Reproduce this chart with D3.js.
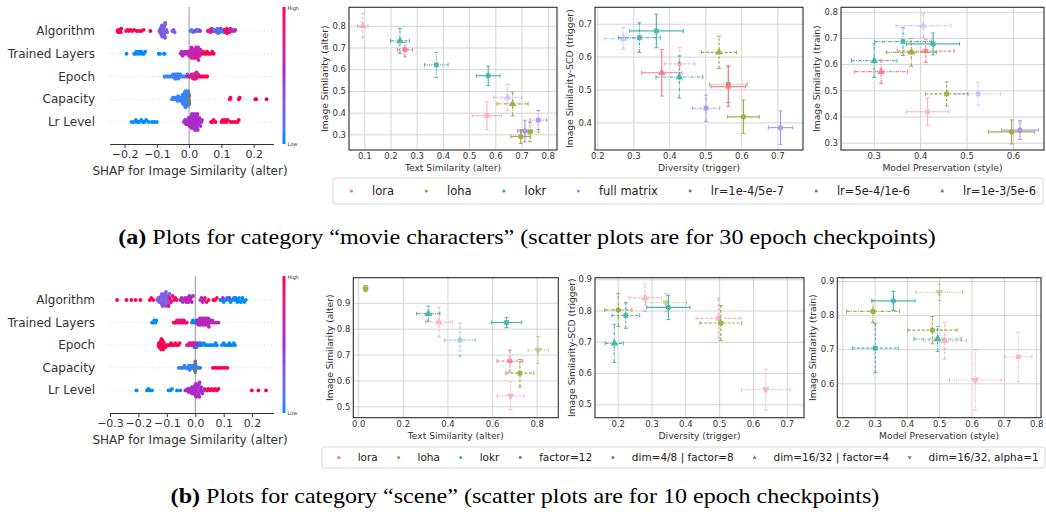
<!DOCTYPE html>
<html>
<head>
<meta charset="utf-8">
<script src="https://cdn.jsdelivr.net/npm/d3@7"></script>
<style>
	body{margin:0;background:#fff;}
	text{font-family:"DejaVu Sans",sans-serif;}
	text.caption{font-family:"Liberation Serif","Times New Roman",serif;}
</style>
</head>
<body>
<svg id="fig"></svg>
<script>
// ---------------- data ----------------
var featureNames = ["Algorithm", "Trained Layers", "Epoch", "Capacity", "Lr Level"];

// SHAP beeswarm values: [shap value, feature value (0 = low, 1 = high, null = missing)]
var shapTopAlgorithm = [[-0.222,1],[-0.220,1],[-0.219,1],[-0.217,1],[-0.215,1],[-0.212,1],[-0.210,1],[-0.195,1],[-0.190,1],[-0.186,1],[-0.181,1],[-0.176,1],[-0.170,1],[-0.162,1],[-0.155,1],[-0.148,1],[-0.141,1],[-0.120,1],
	[-0.092,.3],[-0.090,.3],[-0.089,.3],[-0.088,.3],[-0.087,.3],[-0.086,.3],[-0.086,.3],[-0.085,.3],[-0.084,.3],[-0.084,.3],[-0.083,.3],[-0.082,.3],[-0.082,.3],[-0.081,.3],[-0.080,.3],[-0.080,.3],[-0.079,.3],[-0.078,.3],[-0.078,.3],[-0.077,.3],[-0.076,.3],[-0.076,.3],[-0.075,.3],[-0.074,.3],[-0.074,.3],[-0.072,.3],[-0.070,.3],[-0.068,.3],
	[-0.052,.3],[-0.048,.3],[-0.045,.3],
	[0.004,.1],[0.008,.1],[0.012,.1],[0.018,.45],[0.022,.45],[0.026,.1],[0.030,.1],[0.034,.5],
	[0.058,.85],[0.062,.85],[0.064,.6],[0.066,.85],[0.070,.85],[0.074,.85],
	[0.078,.05],[0.082,.05],[0.085,.05],[0.086,.5],[0.088,.05],[0.090,.05],[0.092,.5],[0.093,.05],[0.096,.05],[0.098,.5],[0.100,.05],[0.104,.05],[0.108,.05],[0.112,.05],
	[0.110,.95],[0.114,.95],[0.117,.95],[0.118,.95],[0.120,.95],[0.122,.95],[0.125,.95],[0.128,.6],[0.132,.6],[0.136,.6],[0.140,.6],[0.143,.6]];
var shapTopLayers = [[-0.194,0],[-0.170,0],[-0.167,0],[-0.163,0],[-0.160,0],[-0.156,0],[-0.152,0],[-0.148,0],[-0.144,0],[-0.140,0],[-0.136,0],[-0.094,0],[-0.090,0],[-0.078,0],[-0.076,0],
	[-0.026,.6],[-0.024,.6],[-0.020,.6],[-0.017,.6],[-0.014,.6],[-0.012,.6],
	[-0.008,.65],[-0.005,.65],[-0.003,.65],[0.000,.65],[0.002,.65],[0.003,.65],[0.004,.65],[0.006,.65],[0.007,.65],[0.008,.65],[0.010,.65],[0.011,.65],[0.012,.65],[0.014,.65],[0.015,.8],[0.016,.65],[0.018,.65],[0.019,.65],[0.020,.65],[0.020,.8],[0.022,.65],[0.023,.65],[0.024,.65],[0.025,.8],[0.026,.65],[0.027,.8],[0.028,.65],[0.029,.65],[0.030,.65],[0.032,.65],[0.033,.65],[0.035,.65],
	[0.040,1],[0.044,1],[0.048,1],[0.052,1],[0.056,1],[0.060,1],[0.066,1],[0.072,1],[0.076,1]];
var shapTopEpoch = [[-0.076,.05],[-0.072,.05],[-0.068,.05],[-0.064,.05],[-0.060,.05],[-0.056,.05],[-0.052,.05],[-0.050,.05],[-0.047,.05],[-0.046,.05],[-0.045,.05],[-0.044,.3],[-0.042,.05],[-0.041,.05],[-0.040,.05],[-0.038,.05],[-0.037,.05],[-0.036,.3],[-0.035,.05],[-0.033,.05],[-0.032,.05],[-0.030,.05],[-0.028,.3],[-0.027,.05],[-0.024,.05],[-0.020,.05],[-0.016,.05],[-0.012,.05],[-0.008,.05],[-0.005,.05],
	[-0.004,.9],[0.000,.9],[0.004,.9],[0.006,.6],[0.008,.6],[0.010,.9],[0.011,.6],[0.012,.7],[0.013,.6],[0.015,.6],[0.016,.9],[0.017,.9],[0.018,.6],[0.019,.7],[0.020,.9],[0.021,.6],[0.022,.7],[0.023,.9],[0.024,.9],[0.025,.7],[0.027,1],[0.028,.7],[0.031,.7],[0.034,1],[0.038,1],[0.042,1],[0.046,1],[0.050,1],[0.054,1],[0.056,1]];
var shapTopCapacity = [[-0.053,.05],[-0.050,.05],[-0.047,.05],[-0.044,.05],[-0.041,.05],[-0.038,.05],[-0.036,.05],[-0.034,.05],[-0.032,.05],[-0.030,.05],[-0.028,.05],[-0.026,.05],[-0.024,.05],[-0.022,.05],[-0.021,.05],[-0.020,.05],[-0.019,.05],[-0.0185,.05],[-0.018,.05],[-0.017,.05],[-0.0165,.05],[-0.016,.05],[-0.015,.05],[-0.0145,.05],[-0.014,.05],[-0.013,.05],[-0.0125,.05],[-0.012,.05],[-0.011,.05],[-0.0105,.05],[-0.010,.05],[-0.009,.05],[-0.0085,.05],[-0.008,.05],[-0.007,.05],[-0.006,.05],[-0.005,.05],[-0.004,.05],[-0.003,.05],[-0.002,.05],
	[-0.001,null],[0.000,null],[0.000,null],[0.000,null],[0.000,null],[0.001,null],
	[0.126,1],[0.128,1],[0.154,1],[0.157,1],[0.205,1],[0.208,1],[0.240,1]];
var shapTopLr = [[-0.178,0],[-0.170,0],[-0.165,0],[-0.160,0],[-0.155,0],[-0.148,0],[-0.143,0],[-0.138,0],[-0.133,0],[-0.125,0],[-0.115,0],[-0.108,0],[-0.100,0],
	[-0.016,.55],[-0.013,.55],[-0.010,.55],[-0.007,.55],[-0.005,.55],[-0.004,.55],[-0.001,.55],[0.001,.55],[0.002,.55],[0.003,.55],[0.004,.55],[0.005,.55],[0.006,.55],[0.007,.55],[0.008,.55],[0.009,.55],[0.010,.55],[0.011,.55],[0.012,.55],[0.013,.55],[0.014,.55],[0.015,.55],[0.016,.55],[0.017,.55],[0.018,.55],[0.019,.55],[0.020,.55],[0.021,.55],[0.022,.55],[0.023,.55],[0.024,.55],[0.025,.55],[0.026,.55],[0.027,.55],[0.028,.55],[0.029,.55],[0.030,.55],[0.032,.55],[0.035,.55],[0.038,.55],[0.040,.55],
	[0.068,1],[0.072,1],[0.076,1],[0.082,1],[0.100,1],[0.104,1],[0.108,1],[0.112,1],[0.116,1],[0.120,1],[0.128,1],[0.135,1],[0.143,1],[0.150,1],[0.154,1]];

var shapBotAlgorithm = [[-0.275,1],[-0.242,1],[-0.225,1],[-0.210,1],[-0.193,1],[-0.160,1],[-0.155,1],[-0.148,1],
	[-0.134,.3],[-0.130,.3],[-0.127,.3],[-0.125,.3],[-0.124,.3],[-0.121,.3],[-0.120,.3],[-0.118,.3],[-0.117,.3],[-0.115,.3],[-0.113,.3],[-0.112,.3],[-0.110,.3],[-0.109,.3],[-0.107,.3],[-0.106,.3],[-0.104,.3],[-0.103,.3],[-0.100,.3],[-0.100,.3],[-0.098,.3],[-0.097,.3],[-0.094,.3],[-0.091,.3],[-0.088,.3],
	[-0.094,.95],[-0.090,.95],[-0.085,.95],[-0.080,.95],[-0.075,.95],[-0.070,.95],[-0.065,.95],
	[-0.053,.55],[-0.048,.55],[-0.044,.55],[-0.040,.55],[-0.036,.55],[-0.032,.55],[-0.030,.9],[-0.028,.55],[-0.024,.55],[-0.020,.55],[-0.018,.9],[-0.016,.55],[-0.012,.55],[-0.008,.55],
	[0.018,.6],[0.022,.6],[0.026,.6],[0.030,.6],[0.034,.9],[0.040,.9],[0.047,.9],
	[0.064,1],[0.070,1],[0.076,1],
	[0.088,0],[0.094,0],[0.097,.5],[0.100,0],[0.106,0],[0.112,0],[0.118,0],[0.120,.5],[0.124,0],[0.130,0],[0.136,0],[0.140,0],[0.142,0],[0.148,0],[0.150,0],[0.154,0],[0.160,0],[0.165,0],[0.166,0],[0.172,0],[0.178,0]];
var shapBotLayers = [[-0.152,0],[-0.148,0],[-0.144,0],[-0.140,0],[-0.137,0],
	[-0.076,.95],[-0.072,.95],[-0.068,.95],[-0.064,.95],[-0.060,.95],[-0.058,.6],[-0.056,.95],[-0.052,.95],[-0.048,.95],[-0.046,.6],[-0.044,.95],[-0.040,.95],[-0.035,.95],[-0.030,.95],
	[-0.012,0],[-0.008,0],[-0.004,0],[0.000,0],[0.004,0],
	[0.006,.6],[0.009,.6],[0.010,.6],[0.012,.6],[0.014,.6],[0.015,.6],[0.016,.6],[0.018,.6],[0.020,.6],[0.021,.6],[0.022,.6],[0.024,.6],[0.025,.6],[0.027,.6],[0.028,.6],[0.030,.6],[0.031,.6],[0.033,.6],[0.034,.6],[0.036,.6],[0.037,.6],[0.039,.6],[0.040,.6],[0.042,.6],[0.043,.6],[0.045,.6],[0.046,.6],[0.048,.6],[0.051,.6],[0.054,.6],[0.057,.6],[0.060,.6],[0.065,.6],[0.070,.6],[0.076,.6],[0.082,.6]];
var shapBotEpoch = [[-0.129,1],[-0.128,1],[-0.126,1],[-0.125,1],[-0.124,1],[-0.123,1],[-0.121,1],[-0.120,1],[-0.119,1],[-0.118,1],[-0.117,1],[-0.116,1],[-0.114,1],[-0.113,1],[-0.111,1],[-0.110,1],[-0.105,1],[-0.100,1],[-0.095,1],[-0.090,1],[-0.085,1],[-0.080,1],[-0.075,1],[-0.070,1],[-0.065,1],[-0.060,1],[-0.055,1],
	[-0.029,.8],[-0.025,.8],[-0.021,.8],[-0.017,.8],[-0.013,.8],[-0.011,.55],[-0.009,.8],[-0.005,.8],[-0.003,.55],[-0.002,.55],[0.002,.55],[0.006,.55],[0.010,.55],[0.014,.55],[0.018,.55],
	[0.004,0],[0.018,0],[0.024,0],[0.030,0],[0.036,0],[0.042,0],[0.048,0],[0.054,0],[0.060,0],[0.066,0],[0.072,0],[0.076,0],
	[0.094,0],[0.100,0],[0.106,0],[0.112,0],[0.118,0],[0.120,0],[0.124,0],[0.130,0],[0.136,0],[0.140,0]];
var shapBotCapacity = [[-0.058,.05],[-0.054,.05],[-0.050,.05],[-0.046,.05],[-0.042,.05],[-0.038,.05],[-0.034,.05],[-0.030,.05],[-0.026,.05],[-0.024,.05],[-0.022,.05],[-0.020,.05],[-0.018,.05],[-0.016,.05],[-0.014,.05],[-0.012,.05],[-0.010,.05],[-0.008,.05],[-0.006,.05],[-0.004,.05],[-0.002,.05],[0.000,.05],[0.002,.05],[0.006,.05],[0.010,.05],[0.014,.05],[0.018,.05],
	[0.000,null],[0.000,null],[0.000,null],[0.000,null],
	[0.062,1],[0.068,1],[0.074,1],[0.080,1],[0.086,1],[0.092,1],[0.100,1],[0.106,1],[0.113,1]];
var shapBotLr = [[-0.207,0],[-0.170,0],[-0.165,0],[-0.160,0],[-0.152,0],[-0.094,0],[-0.088,0],[-0.082,0],[-0.064,0],[-0.053,0],
	[-0.035,.55],[-0.031,.55],[-0.027,.55],[-0.023,.55],[-0.020,.55],[-0.019,.55],[-0.015,.55],[-0.012,.55],[-0.011,.55],[-0.008,.55],[-0.007,.55],[-0.006,.55],[-0.004,.55],[-0.003,.55],[-0.001,.55],[0.001,.55],[0.002,.55],[0.003,.55],[0.004,.55],[0.005,.55],[0.006,.55],[0.008,.55],[0.009,.55],[0.010,.55],[0.012,.55],[0.013,.55],[0.014,.55],[0.015,.55],[0.017,.55],[0.018,.55],[0.020,.55],[0.021,.55],[0.025,.55],[0.029,.55],[0.033,.55],
	[0.041,1],[0.046,1],[0.052,1],[0.058,1],[0.064,1],[0.070,1],[0.076,1],[0.082,1],
	[0.199,1],[0.222,1],[0.249,1]];

var shapTopTicks = [-0.2, -0.1, 0, 0.1, 0.2];
var shapBotTicks = [-0.3, -0.2, -0.1, 0, 0.1, 0.2];

// scatter points: [algorithm, x, y, x err, y err, setting index, run group, faded]
var topTextSim = [
	["lora",0.094,0.800,0.020,0.056,2,1,1],
	["lokr",0.236,0.730,0.036,0.057,2,2,0],
	["lora",0.255,0.690,0.029,0.033,0,1,0],
	["lokr",0.375,0.620,0.045,0.057,1,3,0],
	["lokr",0.573,0.570,0.045,0.045,0,0,0],
	["full matrix",0.647,0.470,0.054,0.061,2,2,1],
	["loha",0.666,0.440,0.059,0.055,2,2,0],
	["lora",0.568,0.386,0.056,0.064,1,0,1],
	["full matrix",0.764,0.366,0.032,0.044,1,3,0],
	["full matrix",0.713,0.315,0.029,0.050,0,0,0],
	["loha",0.732,0.312,0.034,0.044,1,3,0],
	["loha",0.697,0.290,0.038,0.032,0,0,0]];
var topDiversity = [
	["full matrix",0.272,0.655,0.053,0.033,2,2,1],
	["lokr",0.317,0.658,0.058,0.045,1,2,0],
	["lokr",0.364,0.678,0.075,0.051,0,0,0],
	["loha",0.538,0.613,0.049,0.049,2,1,0],
	["lora",0.429,0.578,0.042,0.049,0,1,1],
	["lora",0.379,0.551,0.056,0.071,2,0,0],
	["lokr",0.428,0.538,0.065,0.064,2,2,0],
	["loha",0.564,0.516,0.052,0.056,1,3,0],
	["lora",0.564,0.509,0.048,0.060,1,0,0],
	["full matrix",0.502,0.443,0.038,0.040,1,2,0],
	["loha",0.606,0.417,0.044,0.051,0,0,0],
	["full matrix",0.709,0.384,0.034,0.051,0,0,0]];
var topPreservation = [
	["full matrix",0.407,0.747,0.059,0.045,2,2,1],
	["lokr",0.363,0.686,0.061,0.053,1,2,0],
	["lokr",0.428,0.677,0.057,0.042,0,0,0],
	["lora",0.412,0.650,0.061,0.043,0,1,0],
	["loha",0.381,0.645,0.054,0.053,2,2,0],
	["lokr",0.301,0.613,0.049,0.064,2,2,0],
	["lora",0.316,0.571,0.057,0.045,2,2,0],
	["loha",0.457,0.486,0.046,0.046,1,1,0],
	["full matrix",0.525,0.486,0.048,0.043,1,3,1],
	["lora",0.416,0.418,0.046,0.053,1,0,1],
	["full matrix",0.615,0.348,0.040,0.036,0,0,0],
	["loha",0.597,0.341,0.050,0.046,0,0,0]];

var botTextSim = [
	["loha",0.033,0.955,0.010,0.012,0,0,0],
	["lokr",0.314,0.858,0.052,0.029,2,2,0],
	["lora",0.362,0.825,0.060,0.058,2,1,1],
	["lokr",0.456,0.756,0.070,0.065,0,1,1],
	["lokr",0.665,0.824,0.068,0.020,1,0,0],
	["loha",0.807,0.717,0.045,0.052,3,3,1],
	["lora",0.680,0.675,0.058,0.042,1,1,0],
	["loha",0.725,0.628,0.063,0.053,1,1,0],
	["lora",0.683,0.540,0.060,0.053,3,3,1]];
var botDiversity = [
	["lora",0.281,0.841,0.048,0.044,2,1,1],
	["loha",0.202,0.802,0.040,0.053,0,2,0],
	["lokr",0.224,0.784,0.041,0.041,1,1,0],
	["loha",0.343,0.825,0.061,0.029,3,3,1],
	["lokr",0.350,0.810,0.064,0.039,0,0,0],
	["lokr",0.190,0.695,0.027,0.061,2,2,0],
	["lora",0.498,0.775,0.066,0.065,1,1,1],
	["loha",0.505,0.760,0.062,0.056,1,1,0],
	["lora",0.638,0.547,0.072,0.065,3,3,1]];
var botPreservation = [
	["lokr",0.358,0.842,0.067,0.028,0,0,0],
	["loha",0.500,0.867,0.072,0.024,3,3,1],
	["loha",0.295,0.811,0.082,0.033,0,2,0],
	["lokr",0.302,0.703,0.071,0.072,1,1,0],
	["loha",0.479,0.756,0.076,0.040,1,1,0],
	["lokr",0.495,0.730,0.073,0.037,2,2,0],
	["lora",0.517,0.725,0.067,0.054,2,1,1],
	["lora",0.612,0.610,0.080,0.089,3,3,1],
	["lora",0.745,0.678,0.042,0.072,1,3,1]];

var topAlgorithms = ["lora", "loha", "lokr", "full matrix"];
var topSettings = ["lr=1e-4/5e-7", "lr=5e-4/1e-6", "lr=1e-3/5e-6"];
var botAlgorithms = ["lora", "loha", "lokr"];
var botSettings = ["factor=12", "dim=4/8 | factor=8", "dim=16/32 | factor=4", "dim=16/32, alpha=1"];

var captionTop = ["(a)", " Plots for category \u201cmovie characters\u201d (scatter plots are for 30 epoch checkpoints)"];
var captionBot = ["(b)", " Plots for category \u201cscene\u201d (scatter plots are for 10 epoch checkpoints)"];

// ---------------- styles ----------------
var algColor = {"lora":"#f77189", "loha":"#97a431", "lokr":"#36ada4", "full matrix":"#a48cf4"};
var setSymbols = [d3.symbolCircle, d3.symbolSquare, d3.symbolTriangle, d3.symbolTriangle];
var setRotate = [0, 0, 0, 180];
var groupDash = [null, "3,1.6", "3.4,1.2,1,1.2", "1.1,1.1"];
var shapColor = d3.piecewise(d3.interpolateLab, ["#008bfb", "#9d2ed6", "#ff0052"]);

var W = 1046, H = 512;
var svg = d3.select("#fig").attr("width", W).attr("height", H);
svg.append("rect").attr("width", W).attr("height", H).attr("fill", "#fff");

// ---------------- SHAP beeswarm ----------------
function swarmLayers(vals, nbins){
	// binning as in shap's summary plot: points in one bin alternate up / down
	var s = vals.map(function(d){ return d[0]; });
	var mn = d3.min(s), mx = d3.max(s);
	var q = s.map(function(v){ return Math.round(nbins * (v - mn) / (mx - mn + 1e-8)); });
	var inds = d3.range(s.length).sort(function(a, b){ return (q[a] - q[b]) || (a - b); });
	var ys = new Array(s.length), layer = 0, last = -1;
	inds.forEach(function(i){
		if (q[i] !== last) layer = 0;
		ys[i] = Math.ceil(layer / 2) * ((layer % 2) * 2 - 1);
		layer += 1;
		last = q[i];
	});
	return ys;
}

function drawShap(cfg){
	var g = svg.append("g");
	var x = d3.scaleLinear().domain(cfg.xd).range([110, 274]);

	// row guide lines
	cfg.rows.forEach(function(r, i){
		var ry = cfg.y0 + i * cfg.step;
		g.append("line")
			.attr("x1", 110).attr("x2", 274).attr("y1", ry).attr("y2", ry)
			.attr("stroke", "#cccccc").attr("stroke-width", 0.7)
			.attr("stroke-dasharray", "1,2.5");
	});

	// zero line
	g.append("line")
		.attr("x1", x(0)).attr("x2", x(0)).attr("y1", cfg.top).attr("y2", cfg.axisY)
		.attr("stroke", "#999").attr("stroke-width", 1);

	cfg.rows.forEach(function(r, i){
		var ry = cfg.y0 + i * cfg.step;
		var ys = swarmLayers(r, 38);
		var maxL = d3.max(ys, function(v){ return Math.abs(v); }) || 1;
		var lp = Math.min(2.1, 8 / maxL);
		g.append("g").selectAll("circle")
			.data(r)
			.enter().append("circle")
				.attr("cx", function(d){ return x(d[0]); })
				.attr("cy", function(d, j){ return ry - ys[j] * lp; })
				.attr("r", 1.9)
				.attr("fill", function(d){ return d[1] === null ? "#777777" : shapColor(d[1]); });

		g.append("text")
			.attr("x", 95).attr("y", ry + 4)
			.attr("text-anchor", "end")
			.style("font-size", "12px")
			.attr("fill", "#333")
			.text(featureNames[i]);
	});

	var ax = g.append("g")
		.attr("transform", "translate(0," + cfg.axisY + ")")
		.call(d3.axisBottom(x).tickValues(cfg.ticks).tickSize(4).tickPadding(2).tickFormat(d3.format(".1f")));
	ax.select(".domain").attr("stroke", "#333").attr("d", "M110,0.5H274");
	ax.selectAll(".tick line").attr("stroke", "#333");
	ax.selectAll("text").style("font-size", "11px").attr("fill", "#333").style("font-family", "DejaVu Sans");

	g.append("text")
		.attr("x", 190).attr("y", cfg.axisY + 31)
		.attr("text-anchor", "middle")
		.style("font-size", "12px")
		.attr("fill", "#333")
		.text("SHAP for Image Similarity (alter)");

	// colour bar
	var gid = "cb" + cfg.id;
	var grad = svg.append("defs").append("linearGradient")
		.attr("id", gid).attr("x1", 0).attr("x2", 0).attr("y1", 1).attr("y2", 0);
	d3.range(0, 1.0001, 0.1).forEach(function(t){
		grad.append("stop").attr("offset", t).attr("stop-color", shapColor(t));
	});
	g.append("rect")
		.attr("x", 282.5).attr("y", cfg.top).attr("width", 3).attr("height", cfg.axisY - cfg.top)
		.attr("fill", "url(#" + gid + ")");
	g.append("text").attr("x", 287.5).attr("y", cfg.top + 3).style("font-size", "5px").attr("fill", "#333").text("High");
	g.append("text").attr("x", 287.5).attr("y", cfg.axisY + 2).style("font-size", "5px").attr("fill", "#333").text("Low");
}

drawShap({id: "t", rows: [shapTopAlgorithm, shapTopLayers, shapTopEpoch, shapTopCapacity, shapTopLr],
	y0: 31, step: 22.75, xd: [-0.245, 0.263], ticks: shapTopTicks, axisY: 144, top: 7});
drawShap({id: "b", rows: [shapBotAlgorithm, shapBotLayers, shapBotEpoch, shapBotCapacity, shapBotLr],
	y0: 300, step: 22.6, xd: [-0.30, 0.277], ticks: shapBotTicks, axisY: 413, top: 276});

// ---------------- scatter panels ----------------
function drawScatter(cfg){
	var g = svg.append("g");
	var x = d3.scaleLinear().domain(cfg.xd).range([cfg.l, cfg.r]);
	var y = d3.scaleLinear().domain(cfg.yd).range([cfg.b, cfg.t]);
	var fmt = d3.format(".1f");

	// grid
	var gx = g.append("g")
		.attr("transform", "translate(0," + cfg.b + ")")
		.call(d3.axisBottom(x).tickValues(cfg.xt).tickSize(-(cfg.b - cfg.t)).tickPadding(3).tickFormat(fmt));
	var gy = g.append("g")
		.attr("transform", "translate(" + cfg.l + ",0)")
		.call(d3.axisLeft(y).tickValues(cfg.yt).tickSize(-(cfg.r - cfg.l)).tickPadding(3).tickFormat(fmt));
	[gx, gy].forEach(function(a){
		a.select(".domain").remove();
		a.selectAll(".tick line").attr("stroke", "#d4d4d4").attr("stroke-width", 1);
		a.selectAll("text").style("font-size", "8.5px").attr("fill", "#333").style("font-family", "DejaVu Sans");
	});

	// points with error bars
	cfg.data.forEach(function(d){
		var px = x(d[1]), py = y(d[2]);
		var x0 = x(d[1] - d[3]), x1 = x(d[1] + d[3]);
		var y0 = y(d[2] - d[4]), y1 = y(d[2] + d[4]);
		var c = algColor[d[0]];
		var pg = g.append("g").attr("opacity", d[7] ? 0.5 : 0.88);

		pg.append("line").attr("x1", x0).attr("x2", x1).attr("y1", py).attr("y2", py)
			.attr("stroke", c).attr("stroke-width", 1.2).attr("stroke-dasharray", groupDash[d[6]]);
		pg.append("line").attr("x1", px).attr("x2", px).attr("y1", y0).attr("y2", y1)
			.attr("stroke", c).attr("stroke-width", 1.2).attr("stroke-dasharray", groupDash[d[6]]);

		var caps = [[x0, py - 2, x0, py + 2], [x1, py - 2, x1, py + 2], [px - 2, y0, px + 2, y0], [px - 2, y1, px + 2, y1]];
		pg.selectAll("line.cap")
			.data(caps)
			.enter().append("line")
				.attr("class", "cap")
				.attr("x1", function(k){ return k[0]; }).attr("y1", function(k){ return k[1]; })
				.attr("x2", function(k){ return k[2]; }).attr("y2", function(k){ return k[3]; })
				.attr("stroke", c).attr("stroke-width", 1);

		pg.append("path")
			.attr("d", d3.symbol().type(setSymbols[d[5]]).size(d[5] >= 2 ? 26 : 22)())
			.attr("transform", "translate(" + px + "," + py + ") rotate(" + setRotate[d[5]] + ")")
			.attr("fill", c);
	});

	// frame
	g.append("rect")
		.attr("x", cfg.l).attr("y", cfg.t).attr("width", cfg.r - cfg.l).attr("height", cfg.b - cfg.t)
		.attr("fill", "none").attr("stroke", "#2b2b2b").attr("stroke-width", 1.1);

	g.append("text")
		.attr("x", (cfg.l + cfg.r) / 2).attr("y", cfg.b + 21)
		.attr("text-anchor", "middle")
		.style("font-size", "9.2px").attr("fill", "#333")
		.text(cfg.xl);
	g.append("text")
		.attr("transform", "translate(" + cfg.ylx + "," + ((cfg.t + cfg.b) / 2) + ") rotate(-90)")
		.attr("dy", "0.35em")
		.attr("text-anchor", "middle")
		.style("font-size", "9.2px").attr("fill", "#333")
		.text(cfg.yl);
}

var scatterPanels = [
	{data: topTextSim, l: 349, r: 557, t: 7.3, b: 150, xd: [0.0416, 0.8355], yd: [0.228, 0.885],
		xt: [.1,.2,.3,.4,.5,.6,.7,.8], yt: [.3,.4,.5,.6,.7,.8], xl: "Text Similarity (alter)", yl: "Image Similarity (alter)", ylx: 325},
	{data: topDiversity, l: 595, r: 803, t: 7.3, b: 150, xd: [0.1936, 0.7714], yd: [0.316, 0.75],
		xt: [.2,.3,.4,.5,.6,.7], yt: [.4,.5,.6,.7], xl: "Diversity (trigger)", yl: "Image Similarity-SCD (trigger)", ylx: 570},
	{data: topPreservation, l: 841, r: 1044, t: 7.3, b: 150, xd: [0.2295, 0.6668], yd: [0.272, 0.817],
		xt: [.3,.4,.5,.6], yt: [.3,.4,.5,.6,.7,.8], xl: "Model Preservation (style)", yl: "Image Similarity (train)", ylx: 817},
	{data: botTextSim, l: 353.3, r: 558.3, t: 277.7, b: 417.7, xd: [-0.022, 0.897], yd: [0.456, 0.997],
		xt: [0,.2,.4,.6,.8], yt: [.5,.6,.7,.8,.9], xl: "Text Similarity (alter)", yl: "Image Similarity (alter)", ylx: 330},
	{data: botDiversity, l: 595, r: 804, t: 277.7, b: 417.7, xd: [0.133, 0.751], yd: [0.457, 0.905],
		xt: [.2,.3,.4,.5,.6,.7], yt: [.5,.6,.7,.8,.9], xl: "Diversity (trigger)", yl: "Image Similarity-SCD (trigger)", ylx: 572},
	{data: botPreservation, l: 837.3, r: 1041, t: 277.7, b: 417.7, xd: [0.1845, 0.815], yd: [0.499, 0.91],
		xt: [.2,.3,.4,.5,.6,.7,.8], yt: [.6,.7,.8,.9], xl: "Model Preservation (style)", yl: "Image Similarity (train)", ylx: 813}
];
scatterPanels.forEach(drawScatter);

// ---------------- legends ----------------
function drawLegend(cfg){
	var g = svg.append("g");
	g.append("rect")
		.attr("x", cfg.x0).attr("y", cfg.y0).attr("width", cfg.x1 - cfg.x0).attr("height", cfg.y1 - cfg.y0)
		.attr("rx", 2).attr("fill", "#fff").attr("stroke", "#d9d9d9").attr("stroke-width", 1);

	var items = cfg.algs.map(function(a){ return {label: a, alg: a}; })
		.concat(cfg.sets.map(function(s, i){ return {label: s, set: i}; }));
	var fs = cfg.fs, hl = 2 * fs, hp = 0.8 * fs, pad = 0.6 * fs;
	var cy = (cfg.y0 + cfg.y1) / 2;

	var texts = items.map(function(it){
		return g.append("text").attr("y", cy).attr("dy", "0.35em")
			.style("font-size", fs + "px").attr("fill", "#222").text(it.label);
	});
	var widths = texts.map(function(t){ return t.node().getComputedTextLength(); });
	var total = d3.sum(widths) + items.length * (hl + hp);
	var spacing = (cfg.x1 - cfg.x0 - 2 * pad - total) / (items.length - 1);

	var cx = cfg.x0 + pad;
	items.forEach(function(it, i){
		if (it.alg){
			g.append("circle").attr("cx", cx + hl / 2).attr("cy", cy).attr("r", 1.6)
				.attr("fill", algColor[it.alg]);
		} else {
			g.append("path")
				.attr("d", d3.symbol().type(setSymbols[it.set]).size(7)())
				.attr("transform", "translate(" + (cx + hl / 2) + "," + cy + ") rotate(" + setRotate[it.set] + ")")
				.attr("fill", "#777");
		}
		texts[i].attr("x", cx + hl + hp);
		cx += hl + hp + widths[i] + spacing;
	});
}

drawLegend({x0: 333, x1: 1043, y0: 178, y1: 204, fs: 11.5, algs: topAlgorithms, sets: topSettings});
drawLegend({x0: 322, x1: 1045, y0: 447, y1: 468, fs: 10.5, algs: botAlgorithms, sets: botSettings});

// ---------------- captions ----------------
var captionWidth = 818;
function drawCaption(parts, cx, baseline, k){
	var t = svg.append("text")
		.attr("class", "caption")
		.attr("text-anchor", "middle")
		.style("font-size", "22px")
		.attr("fill", "#000");
	t.append("tspan").style("font-weight", "bold").text(parts[0]);
	t.append("tspan").text(parts[1]);
	var w = t.node().getComputedTextLength();
	if (k === undefined) k = captionWidth / w;
	t.attr("transform", "translate(" + cx + "," + baseline + ") scale(" + k + ",1)");
	return k;
}
var kCap = drawCaption(captionTop, 527, 244);
drawCaption(captionBot, 525, 503, kCap);
</script>
</body>
</html>
